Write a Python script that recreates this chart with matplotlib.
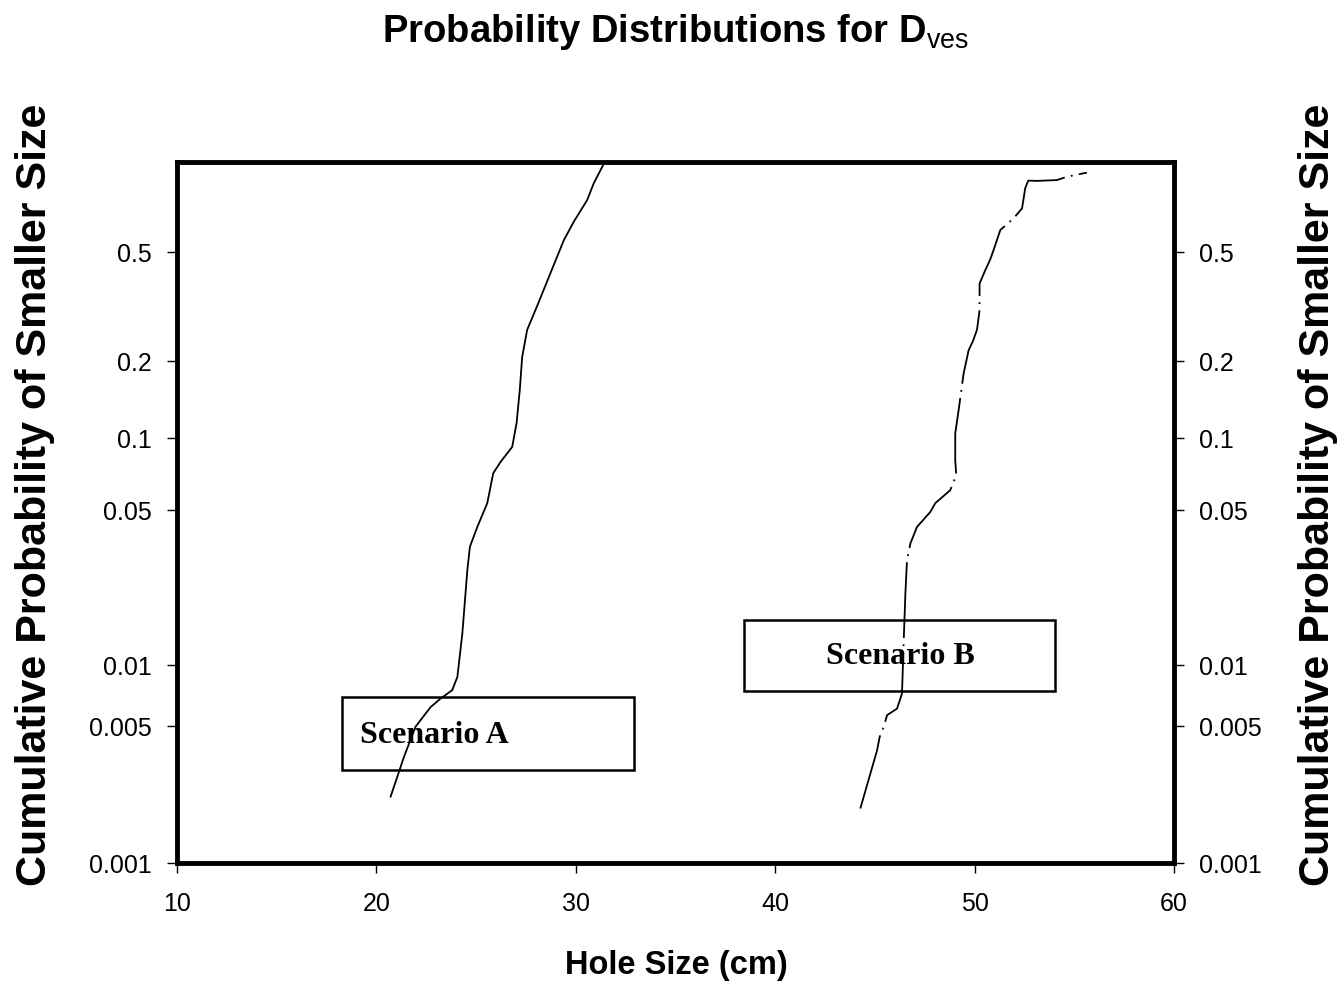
import numpy as np
import matplotlib
matplotlib.use("Agg")
import matplotlib.pyplot as plt
from matplotlib.patches import Rectangle
from matplotlib.ticker import NullLocator

plt.rcParams['font.family'] = ['Liberation Sans', 'DejaVu Sans']
plt.rcParams['mathtext.fontset'] = 'custom'
plt.rcParams['mathtext.rm'] = 'Liberation Sans'

# ---- data ----
size_a = [20.71, 21.38, 21.96, 22.72, 23.22, 23.80, 24.06, 24.31, 24.56, 24.69,
          25.06, 25.56, 25.86, 26.23, 26.81, 27.03, 27.19, 27.31, 27.56, 28.07,
          28.73, 29.40, 29.90, 30.57, 30.90, 31.40]
prob_a = [0.00218, 0.00348, 0.00497, 0.00622, 0.00685, 0.00753, 0.00875, 0.0139,
          0.0268, 0.0342, 0.0420, 0.0535, 0.0714, 0.0796, 0.0919, 0.1145, 0.154,
          0.207, 0.260, 0.319, 0.419, 0.532, 0.586, 0.656, 0.716, 0.792]

size_b = [44.27, 45.11, 45.24, 45.44, 45.61, 46.11, 46.36, 46.44, 46.53, 46.61,
          46.78, 47.11, 47.78, 48.03, 48.78, 49.08, 49.03, 49.03, 49.20, 49.45,
          49.70, 49.92, 50.12, 50.25, 50.25, 50.54, 50.79, 50.95, 51.29, 51.95,
          52.38, 52.54, 52.69, 53.13, 54.13, 54.63, 55.63]
prob_b = [0.0019, 0.00377, 0.00441, 0.00496, 0.00567, 0.00611, 0.00725, 0.01253,
          0.02105, 0.02976, 0.0354, 0.0420, 0.0491, 0.0535, 0.0606, 0.0700, 0.0809,
          0.1043, 0.1287, 0.179, 0.219, 0.237, 0.260, 0.307, 0.384, 0.430, 0.471,
          0.505, 0.561, 0.596, 0.628, 0.698, 0.726, 0.725, 0.728, 0.741, 0.757]

x_ticks = [10, 20, 30, 40, 50, 60]
y_ticks = [0.001, 0.005, 0.01, 0.05, 0.1, 0.2, 0.5]
y_tick_labels = ["0.001", "0.005", "0.01", "0.05", "0.1", "0.2", "0.5"]

# ---- probability-paper axis scale (knots of the printed grid) ----
SCALE_P = np.array([0.001, 0.005, 0.01, 0.05, 0.1, 0.2, 0.5, 0.8])
SCALE_POS = np.array([0.0, 136.7, 197.7, 352.7, 424.7, 501.7, 610.7, 700.7])
_LOGK = np.log10(SCALE_P)


def fwd(p):
    p = np.clip(np.asarray(p, dtype=float), 1e-12, None)
    return np.interp(np.log10(p), _LOGK, SCALE_POS)


def inv(v):
    v = np.asarray(v, dtype=float)
    return 10.0 ** np.interp(v, SCALE_POS, _LOGK)


fig = plt.figure(figsize=(13.44, 9.88), dpi=100)
ax = fig.add_axes([0.1317, 0.1265, 0.7418, 0.7095])
ax.set_yscale('function', functions=(fwd, inv))

ax.plot(size_a, prob_a, color='black', lw=1.3, solid_joinstyle='round',
        solid_capstyle='round')
ax.plot(size_b, prob_b, color='black', lw=1.3, linestyle=(0, (42, 3.5, 1, 3.5)),
        dash_joinstyle='round')

ax.set_xlim(10, 60)
ax.set_ylim(0.001, 0.8)
ax.set_xticks(x_ticks)
ax.set_yticks(y_ticks)
ax.set_yticklabels(y_tick_labels)
ax.yaxis.set_minor_locator(NullLocator())
ax.xaxis.set_minor_locator(NullLocator())
ax.tick_params(axis='both', direction='out', length=7, width=1, labelsize=18,
               colors='black')
ax.tick_params(axis='y', right=True, labelright=True, pad=11)
ax.tick_params(axis='x', pad=14)
for sp in ax.spines.values():
    sp.set_linewidth(3.5)

# annotation boxes
ax.add_patch(Rectangle((0.1658, 0.1327), 0.2926, 0.1037, transform=ax.transAxes,
                       fill=False, edgecolor='black', lw=1.8))
ax.text(0.1836, 0.1826, "Scenario A", transform=ax.transAxes, ha='left', va='center',
        family='Liberation Serif', fontweight='bold', fontsize=23)
ax.add_patch(Rectangle((0.569, 0.2454), 0.3116, 0.1012, transform=ax.transAxes,
                       fill=False, edgecolor='black', lw=1.8))
ax.text(0.7252, 0.2943, "Scenario B", transform=ax.transAxes, ha='center', va='center',
        family='Liberation Serif', fontweight='bold', fontsize=23)

fig.text(676 / 1344, 1 - 32 / 988, r"Probability Distributions for D$_{\rm ves}$",
         ha='center', va='center', fontsize=27.5, fontweight='bold')
fig.text(676 / 1344, 1 - 965 / 988, "Hole Size (cm)", ha='center', va='center',
         fontsize=23.5, fontweight='bold')
fig.text(35 / 1344, 1 - 495 / 988, "Cumulative Probability of Smaller Size",
         rotation=90, ha='center', va='center', fontsize=31, fontweight='bold')
fig.text(1318 / 1344, 1 - 495 / 988, "Cumulative Probability of Smaller Size",
         rotation=90, ha='center', va='center', fontsize=31, fontweight='bold')

fig.savefig("out.png", dpi=100)
